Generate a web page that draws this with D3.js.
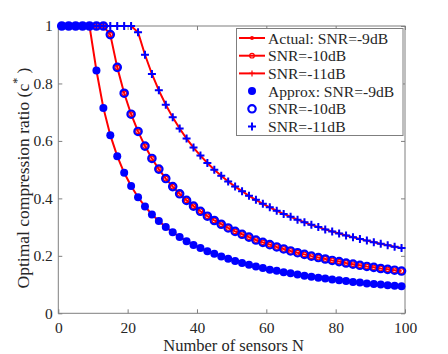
<!DOCTYPE html>
<html><head><meta charset="utf-8">
<script src="https://cdn.jsdelivr.net/npm/d3@7"></script>
<style>body{margin:0;background:#fff;} svg text{font-family:'Liberation Serif','Times New Roman',Times,'Nimbus Roman','DejaVu Serif',serif !important;}</style>
</head><body><svg id="c" width="448" height="354"></svg>
<script>
const sensorsN = [1,3,5,7,9,11,13,15,17,19,21,23,25,27,29,31,33,35,37,39,41,43,45,47,49,51,53,55,57,59,61,63,65,67,69,71,73,75,77,79,81,83,85,87,89,91,93,95,97,99];
const actualSnr9 = [1,1,1,1,1,0.845,0.715,0.620,0.547,0.489,0.443,0.404,0.372,0.344,0.321,0.300,0.282,0.266,0.251,0.238,0.227,0.216,0.207,0.198,0.190,0.182,0.175,0.169,0.163,0.158,0.152,0.148,0.143,0.139,0.135,0.131,0.127,0.124,0.121,0.118,0.115,0.112,0.109,0.107,0.104,0.102,0.100,0.098,0.096,0.094];
const actualSnr10 = [1,1,1,1,1,1,1,0.970,0.856,0.766,0.693,0.633,0.582,0.539,0.502,0.469,0.441,0.416,0.393,0.373,0.355,0.338,0.323,0.310,0.297,0.285,0.275,0.265,0.255,0.247,0.239,0.231,0.224,0.217,0.211,0.205,0.199,0.194,0.189,0.184,0.180,0.175,0.171,0.167,0.163,0.160,0.156,0.153,0.150,0.147];
const actualSnr11 = [1,1,1,1,1,1,1,1,1,1,1,0.978,0.900,0.833,0.776,0.726,0.682,0.643,0.608,0.577,0.549,0.523,0.500,0.479,0.459,0.441,0.425,0.409,0.395,0.381,0.369,0.357,0.346,0.336,0.326,0.317,0.308,0.300,0.292,0.285,0.278,0.271,0.265,0.259,0.253,0.247,0.242,0.237,0.232,0.227];
const approxSnr9 = [1,1,1,1,1,0.845,0.715,0.620,0.547,0.489,0.443,0.404,0.372,0.344,0.321,0.300,0.282,0.266,0.251,0.238,0.227,0.216,0.207,0.198,0.190,0.182,0.175,0.169,0.163,0.158,0.152,0.148,0.143,0.139,0.135,0.131,0.127,0.124,0.121,0.118,0.115,0.112,0.109,0.107,0.104,0.102,0.100,0.098,0.096,0.094];
const approxSnr10 = [1,1,1,1,1,1,1,0.970,0.856,0.766,0.693,0.633,0.582,0.539,0.502,0.469,0.441,0.416,0.393,0.373,0.355,0.338,0.323,0.310,0.297,0.285,0.275,0.265,0.255,0.247,0.239,0.231,0.224,0.217,0.211,0.205,0.199,0.194,0.189,0.184,0.180,0.175,0.171,0.167,0.163,0.160,0.156,0.153,0.150,0.147];
const approxSnr11 = [1,1,1,1,1,1,1,1,1,1,1,0.978,0.900,0.833,0.776,0.726,0.682,0.643,0.608,0.577,0.549,0.523,0.500,0.479,0.459,0.441,0.425,0.409,0.395,0.381,0.369,0.357,0.346,0.336,0.326,0.317,0.308,0.300,0.292,0.285,0.278,0.271,0.265,0.259,0.253,0.247,0.242,0.237,0.232,0.227];
const xTicks = [0,20,40,60,80,100];
const yTicks = [0,0.2,0.4,0.6,0.8,1];
const legendLabels = ["Actual:  SNR=-9dB","SNR=-10dB","SNR=-11dB","Approx:  SNR=-9dB","SNR=-10dB","SNR=-11dB"];

const svg = d3.select("#c");
const L=58.3, R=405, T=26, B=313.3;
const x = d3.scaleLinear().domain([0,100]).range([L,R]);
const y = d3.scaleLinear().domain([0,1]).range([B,T]);
const axisCol="#7f7f7f", textCol="#262626";

svg.append("rect").attr("x",L).attr("y",T).attr("width",R-L).attr("height",B-T)
  .attr("fill","none").attr("stroke",axisCol).attr("stroke-width",1);

const styleAxis = g => { g.attr("font-family",null); g.select(".domain").remove(); g.selectAll("line").attr("stroke",axisCol); g.selectAll("text").attr("fill",textCol).style("font-size","15.5px"); };
svg.append("g").attr("transform",`translate(0,${B})`).call(d3.axisBottom(x).tickValues(xTicks).tickSizeInner(-4).tickSizeOuter(0).tickPadding(8.5).tickFormat(d3.format("d"))).call(styleAxis);
svg.append("g").attr("transform",`translate(0,${T})`).call(d3.axisTop(x).tickValues(xTicks).tickSizeInner(-4).tickSizeOuter(0).tickFormat("")).call(styleAxis);
svg.append("g").attr("transform",`translate(${L},0)`).call(d3.axisLeft(y).tickValues(yTicks).tickSizeInner(-4).tickSizeOuter(0).tickPadding(5.5).tickFormat(d=>d===0||d===1?String(d):d.toFixed(1))).call(styleAxis);
svg.append("g").attr("transform",`translate(${R},0)`).call(d3.axisRight(y).tickValues(yTicks).tickSizeInner(-4).tickSizeOuter(0).tickFormat("")).call(styleAxis);

svg.append("text").attr("x",(L+R)/2+2).attr("y",350.5).attr("text-anchor","middle").attr("fill",textCol).style("font-size","16.5px").text("Number of sensors N");
const yl = svg.append("text").attr("transform","translate(29,178) rotate(-90)").attr("text-anchor","middle").attr("fill",textCol).style("font-size","17.5px");
yl.append("tspan").text("Optimal compression ratio (c");
yl.append("tspan").attr("dy","-8").style("font-size","12px").text("*");
yl.append("tspan").attr("dy","8").text(" )");

const red="#ff0000", blue="#0000ff";
const line = d3.line().x(d=>x(d[0])).y(d=>y(d[1]));
const actuals=[actualSnr9,actualSnr10,actualSnr11];
const approxs=[approxSnr9,approxSnr10,approxSnr11];
const types=["dot","circle","plus"];

function marker(g, type, cx, cy, col, big){
  if(type==="dot"){ g.append("circle").attr("cx",cx).attr("cy",cy).attr("r",big?4:2).attr("fill",col); }
  else if(type==="circle"){ g.append("circle").attr("cx",cx).attr("cy",cy).attr("r",big?3.7:2.3).attr("fill","none").attr("stroke",col).attr("stroke-width",big?2.2:1.2); }
  else { const s=big?4:3; g.append("path").attr("d",`M${cx-s},${cy}H${cx+s}M${cx},${cy-s}V${cy+s}`).attr("stroke",col).attr("stroke-width",big?2:1.2); }
}

actuals.forEach((arr,i)=>{
  const pts = sensorsN.map((n,j)=>[n,arr[j]]);
  svg.append("path").datum(pts).attr("d",line).attr("fill","none").attr("stroke",red).attr("stroke-width",2);
  const g=svg.append("g");
  pts.forEach(p=>marker(g,types[i],x(p[0]),y(p[1]),red,false));
});
approxs.forEach((arr,i)=>{
  const g=svg.append("g");
  sensorsN.forEach((n,j)=>marker(g,types[i],x(n),y(arr[j]),blue,true));
});

const lg=svg.append("g");
lg.append("rect").attr("x",236.5).attr("y",28.5).attr("width",166.5).attr("height",107).attr("fill","#fff").attr("stroke",axisCol).attr("stroke-width",1);
legendLabels.forEach((t,i)=>{
  const cy=38+i*17.7;
  if(i<3){
    lg.append("line").attr("x1",239).attr("x2",265).attr("y1",cy).attr("y2",cy).attr("stroke",red).attr("stroke-width",2);
    marker(lg,types[i],252,cy,red,false);
  } else {
    marker(lg,types[i-3],252,cy,blue,true);
  }
  lg.append("text").attr("x",268).attr("y",cy+5.5).attr("fill",textCol).style("font-size","15.6px").text(t);
});
</script></body></html>
